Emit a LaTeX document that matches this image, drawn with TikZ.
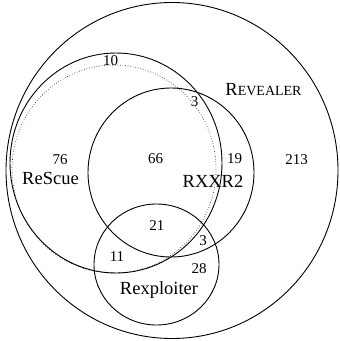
\documentclass[tikz,border=0pt]{standalone}
\usepackage{fontspec}
\setmainfont{Liberation Serif}
\usepackage{tikz}

\begin{document}
\begin{tikzpicture}[x=1pt,y=-1pt,
  setline/.style={line width=0.9pt},
  cnt/.style={font=\fontsize{15}{15}\selectfont,anchor=base,inner sep=0pt},
  setname/.style={font=\fontsize{18.5}{18.5}\selectfont,anchor=base,inner sep=0pt}]
\useasboundingbox (0,0) rectangle (340,341);
% sets
\draw[setline] (172,170.5) ellipse[x radius=166,y radius=168];
\draw[setline] (116,163) ellipse[x radius=106,y radius=110];
\draw[line width=0.6pt,dotted] (114,169) ellipse[x radius=102,y radius=104];
\draw[setline] (171,172.5) ellipse[x radius=83,y radius=84.5];
\draw[setline] (156.5,264.5) ellipse[x radius=62.5,y radius=60.5];
% set names
\node[setname] (revealer) at (263.5,95) {R{\fontsize{14}{14}\selectfont EVEALER}};
\node[setname] (rescue) at (50.5,184) {ReScue};
\node[setname] (rxxr) at (213,187) {RXXR2};
\node[setname] (rexploiter) at (159,294) {Rexploiter};
% counts
\node[cnt] (n10) at (110.5,65) {10};
\node[cnt] (n3a) at (194.5,106) {3};
\node[cnt] (n76) at (60,164) {76};
\node[cnt] (n66) at (155.7,163) {66};
\node[cnt] (n19) at (234.5,163) {19};
\node[cnt] (n213) at (296.5,164) {213};
\node[cnt] (n21) at (157,230) {21};
\node[cnt] (n3b) at (203,245) {3};
\node[cnt] (n11) at (117,261) {11};
\node[cnt] (n28) at (199,273) {28};
\end{tikzpicture}
\end{document}
